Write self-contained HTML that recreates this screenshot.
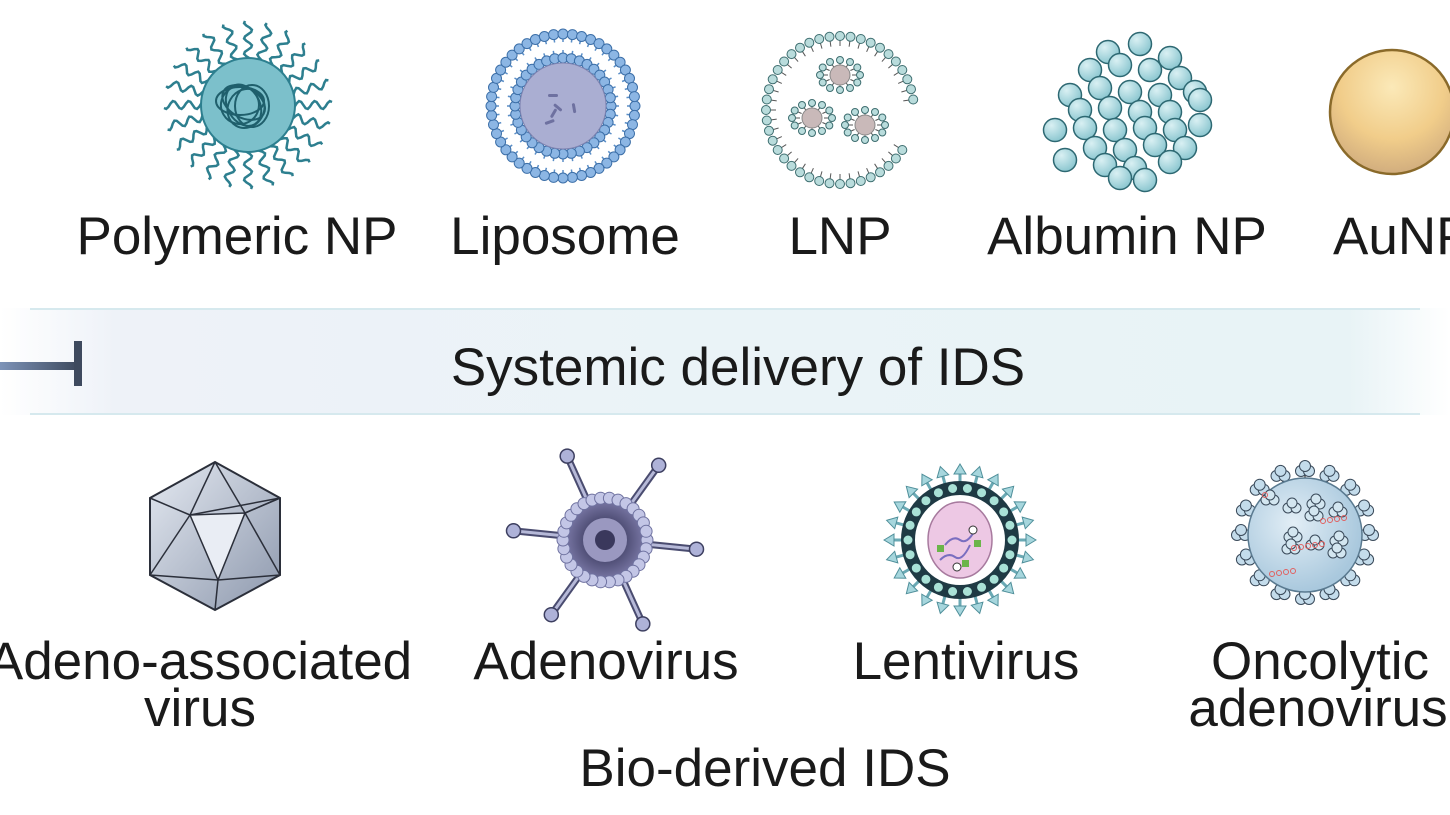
<!DOCTYPE html>
<html><head><meta charset="utf-8"><style>
html,body{margin:0;padding:0;background:#fff;}
svg{display:block;font-family:"Liberation Sans",Arial,sans-serif;}
</style></head><body>
<svg id="s" width="1450" height="815" viewBox="0 0 1450 815" xmlns="http://www.w3.org/2000/svg">
<defs>
<linearGradient id="band" x1="0" x2="1" y1="0" y2="0">
<stop offset="0" stop-color="#fff"/><stop offset="0.08" stop-color="#eef2f8"/><stop offset="0.5" stop-color="#eaf3f7"/><stop offset="0.93" stop-color="#e8f3f6"/><stop offset="1" stop-color="#fff"/></linearGradient>
<linearGradient id="bar" x1="0" x2="1"><stop offset="0" stop-color="#7d93b8"/><stop offset="1" stop-color="#3e4a5e"/></linearGradient>
<radialGradient id="gold" cx="0.5" cy="0.3" r="0.7"><stop offset="0" stop-color="#fbe9b8"/><stop offset="0.6" stop-color="#f1cd8a"/><stop offset="1" stop-color="#d1ad7e"/></radialGradient>
<radialGradient id="ball" cx="0.35" cy="0.3" r="0.8"><stop offset="0" stop-color="#d9f0f3"/><stop offset="1" stop-color="#83c2cc"/></radialGradient>
<radialGradient id="adv" cx="0.5" cy="0.5" r="0.5"><stop offset="0" stop-color="#1f1f3f"/><stop offset="1" stop-color="#7a78a6"/></radialGradient>
<radialGradient id="onc" cx="0.4" cy="0.4" r="0.6"><stop offset="0" stop-color="#e2eef6"/><stop offset="1" stop-color="#a9c8dd"/></radialGradient>
<linearGradient id="aav" x1="0" x2="1" y1="0" y2="1"><stop offset="0" stop-color="#e4e9f1"/><stop offset="1" stop-color="#8d98ad"/></linearGradient>
</defs>
<rect x="0" y="308" width="1450" height="107" fill="url(#band)"/>
<line x1="30" y1="309" x2="1420" y2="309" stroke="#d6e9ee" stroke-width="2"/>
<line x1="30" y1="414" x2="1420" y2="414" stroke="#d6e9ee" stroke-width="2"/>
<rect x="0" y="362" width="78" height="8" fill="url(#bar)"/>
<rect x="74" y="341" width="8" height="45" fill="#3e4a5e"/>
<g id="g"></g>
<g font-size="53" fill="#1a1a1a" text-anchor="middle">
<text x="237" y="254">Polymeric NP</text>
<text x="565" y="254">Liposome</text>
<text x="840" y="254">LNP</text>
<text x="1127" y="254">Albumin NP</text>
<text x="1333" y="254" text-anchor="start">AuNP</text>
<text x="738" y="385">Systemic delivery of IDS</text>
<text x="200" y="679">Adeno-associated</text>
<text x="200" y="726">virus</text>
<text x="606" y="679">Adenovirus</text>
<text x="966" y="679">Lentivirus</text>
<text x="1320" y="679">Oncolytic</text>
<text x="1318" y="726">adenovirus</text>
<text x="765" y="786">Bio-derived IDS</text>
</g>
</svg>
<script>
var g=document.getElementById('g'),h='';
function C(x,y,r,f,s,w){h+='<circle cx="'+x.toFixed(1)+'" cy="'+y.toFixed(1)+'" r="'+r+'" fill="'+f+'" stroke="'+(s||'none')+'" stroke-width="'+(w||1)+'"/>';}
function L(a,b,c,d,s,w){h+='<line x1="'+a.toFixed(1)+'" y1="'+b.toFixed(1)+'" x2="'+c.toFixed(1)+'" y2="'+d.toFixed(1)+'" stroke="'+s+'" stroke-width="'+w+'"/>';}
var cx=248,cy=105;
for(var i=0;i<24;i++){var a=i*Math.PI*2/24,p='M';for(var t=0;t<=20;t++){var r=40+t*2.2,o=Math.sin(t*0.9)*4;var x=cx+Math.cos(a)*r-Math.sin(a)*o,y=cy+Math.sin(a)*r+Math.cos(a)*o;p+=x.toFixed(1)+','+y.toFixed(1)+' ';}h+='<path d="'+p+'" fill="none" stroke="#2d7f8f" stroke-width="2.5"/>';}
C(cx,cy,47,'#7cc0cb','#2d7f8f',2);
for(var i=0;i<6;i++){h+='<ellipse cx="'+(cx-8+i*3)+'" cy="'+(cy-4+(i%3)*4)+'" rx="'+(24-i)+'" ry="'+(14+i)+'" fill="none" stroke="#1f5f6c" stroke-width="2" transform="rotate('+(i*30)+' '+cx+' '+cy+')"/>';}
cx=563;cy=106;
C(cx,cy,62,'#fff');
for(var k=0;k<2;k++){var n=k?36:48,R=k?48:72,R2=k?56:64;for(var i=0;i<n;i++){var a=i*Math.PI*2/n;L(cx+Math.cos(a)*R,cy+Math.sin(a)*R,cx+Math.cos(a)*R2,cy+Math.sin(a)*R2,'#5a8ec7',1.5);C(cx+Math.cos(a)*R,cy+Math.sin(a)*R,5,'#8cb6e4','#3c6fa8',1);}}
C(cx,cy,43,'#aaaed2','#7d82b0',1);
for(var i=0;i<5;i++)h+='<rect x="'+(cx-15+i*7)+'" y="'+(cy-12+(i%2)*15)+'" width="10" height="3" rx="1.5" fill="#6e71a0" transform="rotate('+(i*40)+' '+cx+' '+cy+')"/>';
cx=840;cy=110;
for(var i=0;i<44;i++){var a=i*Math.PI*2/44;if(Math.abs(a-0.2)<0.25)continue;L(cx+Math.cos(a)*74,cy+Math.sin(a)*74,cx+Math.cos(a)*64,cy+Math.sin(a)*64,'#555',1);C(cx+Math.cos(a)*74,cy+Math.sin(a)*74,4.5,'#b9dcdc','#3e6e70',1);}
[[840,75],[812,118],[865,125]].forEach(function(q){for(var i=0;i<12;i++){var a=i*Math.PI/6;L(q[0]+Math.cos(a)*12,q[1]+Math.sin(a)*9,q[0]+Math.cos(a)*20,q[1]+Math.sin(a)*15,'#555',1);C(q[0]+Math.cos(a)*20,q[1]+Math.sin(a)*15,3.5,'#b9dcdc','#3e6e70',1);}C(q[0],q[1],10,'#c9b9b9','#888',1);});
var pts=[[1108,52],[1140,44],[1170,58],[1090,70],[1120,65],[1150,70],[1180,78],[1070,95],[1100,88],[1130,92],[1160,95],[1195,92],[1080,110],[1110,108],[1140,112],[1170,112],[1200,100],[1055,130],[1085,128],[1115,130],[1145,128],[1175,130],[1095,148],[1125,150],[1155,145],[1185,148],[1065,160],[1105,165],[1135,168],[1170,162],[1145,180],[1120,178],[1200,125]];
pts.forEach(function(q){C(q[0],q[1],11.5,'url(#ball)','#2d6872',1.5);});
C(1392,112,62,'url(#gold)','#8a6a2a',2.5);
var V=[[215,462],[280,498],[280,575],[215,610],[150,575],[150,498]];
h+='<polygon points="'+V.join(' ')+'" fill="url(#aav)" stroke="#2b2f3a" stroke-width="2"/>';
var I=[[190,515],[245,513],[218,580]];
h+='<polygon points="'+I.join(' ')+'" fill="#e9edf4" stroke="#2b2f3a" stroke-width="1.5"/>';
[[0,0],[0,1],[1,1],[1,0],[1,2],[2,2],[2,3],[2,4],[0,5],[0,4],[1,1]].forEach(function(e){L(I[e[0]][0],I[e[0]][1],V[e[1]][0],V[e[1]][1],'#2b2f3a',1.5);});
cx=605;cy=540;
for(var i=0;i<6;i++){var a=i*Math.PI/3+0.1;L(cx+Math.cos(a)*40,cy+Math.sin(a)*40,cx+Math.cos(a)*90,cy+Math.sin(a)*90,'#4a4c70',7);L(cx+Math.cos(a)*40,cy+Math.sin(a)*40,cx+Math.cos(a)*90,cy+Math.sin(a)*90,'#b6b9d8',3);C(cx+Math.cos(a)*92,cy+Math.sin(a)*92,7,'#aeb2d8','#3d3f60',1.5);}
C(cx,cy,40,'url(#adv)');
for(var i=0;i<30;i++){var a=i*Math.PI*2/30;C(cx+Math.cos(a)*42,cy+Math.sin(a)*42,6,'#c3c6e6','#6f72a0',1);}
C(cx,cy,22,'#9a98c0');C(cx,cy,10,'#3a385c');
cx=960;cy=540;
for(var i=0;i<24;i++){var a=i*Math.PI*2/24,ex=cx+Math.cos(a)*66,ey=cy+Math.sin(a)*66;L(cx+Math.cos(a)*40,cy+Math.sin(a)*40,ex,ey,'#6aa9b4',3);var px=-Math.sin(a)*6,py=Math.cos(a)*6;h+='<polygon points="'+(cx+Math.cos(a)*76).toFixed(1)+','+(cy+Math.sin(a)*76).toFixed(1)+' '+(ex+px).toFixed(1)+','+(ey+py).toFixed(1)+' '+(ex-px).toFixed(1)+','+(ey-py).toFixed(1)+'" fill="#a6d6dd" stroke="#4f8f9a" stroke-width="1"/>';}
C(cx,cy,52,'#fff','#1f3a44',14);
for(var i=0;i<22;i++){var a=i*Math.PI*2/22;C(cx+Math.cos(a)*52,cy+Math.sin(a)*52,5,'#a9e1d6','#1f3a44',1);}
C(cx,cy,40,'#fff');
h+='<ellipse cx="'+cx+'" cy="'+cy+'" rx="32" ry="38" fill="#edc8e4" stroke="#a77a9e" stroke-width="1.5"/>';
h+='<path d="M945,545 q8,-10 15,-5 t15,-10 M940,560 q8,-8 15,-3 t15,-12" fill="none" stroke="#7a6ec0" stroke-width="2"/>';
h+='<rect x="937" y="545" width="7" height="7" fill="#6bb54a"/><rect x="974" y="540" width="7" height="7" fill="#6bb54a"/><rect x="962" y="560" width="7" height="7" fill="#6bb54a"/>';
C(973,530,4,'#fff','#333',1);C(957,567,4,'#fff','#333',1);
cx=1305;cy=535;
for(var i=0;i<16;i++){var a=i*Math.PI*2/16,x=cx+Math.cos(a)*64,y=cy+Math.sin(a)*64;L(cx+Math.cos(a)*55,cy+Math.sin(a)*55,x,y,'#555',1.5);C(x-4,y,5.5,'#c4dceb','#3a4a5a',1);C(x+4,y,5.5,'#c4dceb','#3a4a5a',1);C(x,y-5,5.5,'#c4dceb','#3a4a5a',1);}
C(cx,cy,57,'url(#onc)','#5a7a90',1.5);
for(var i=0;i<10;i++){var x=cx-35+(i*23)%70,y=cy-35+((i*37)%70);C(x-4,y,5,'#d3e6f0','#3a4a5a',1);C(x+4,y,5,'#d3e6f0','#3a4a5a',1);C(x,y-5,5,'#d3e6f0','#3a4a5a',1);}
for(var i=0;i<14;i++){C(cx-40+(i*29)%80,cy-40+(i*53)%80,2.5,'none','#e06060',1);}
g.innerHTML=h;
</script>
</body></html>
